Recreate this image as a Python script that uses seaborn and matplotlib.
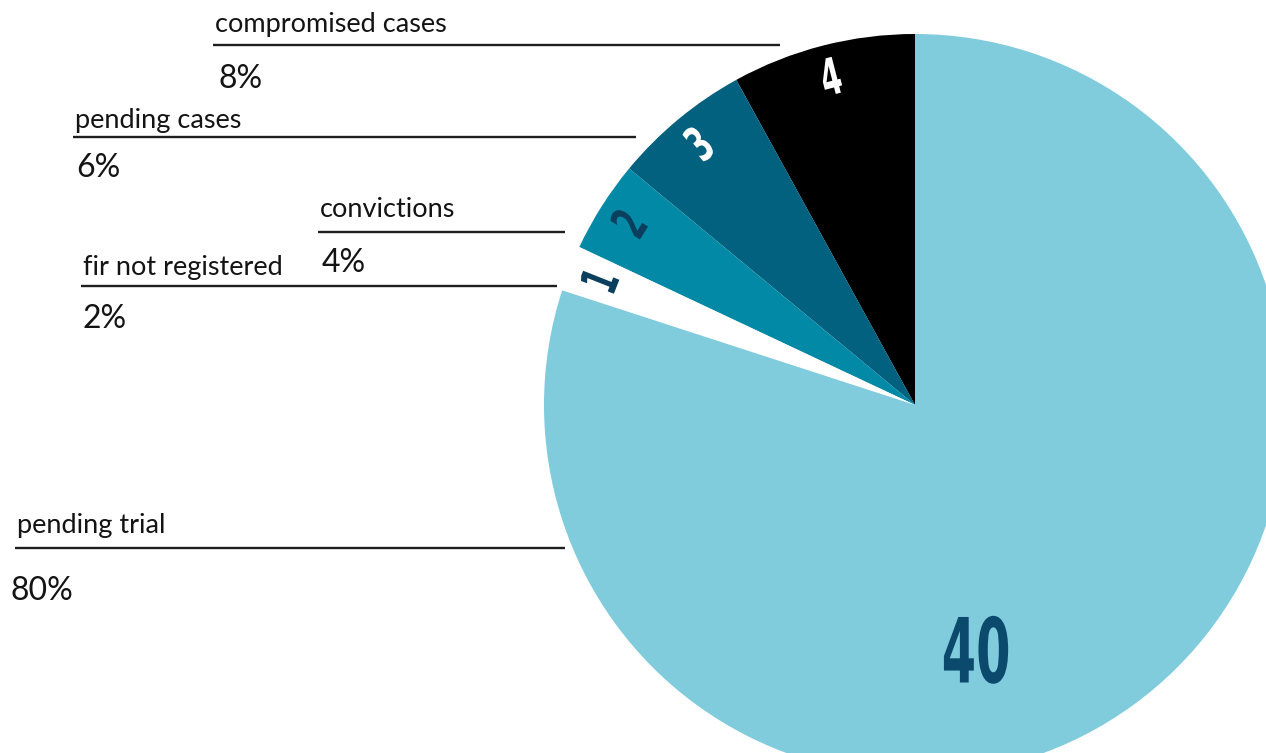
import matplotlib
matplotlib.use("Agg")
import matplotlib.pyplot as plt
import numpy as np
import seaborn as sns
from matplotlib.font_manager import FontProperties
from matplotlib.patches import PathPatch
from matplotlib.textpath import TextPath
from matplotlib.transforms import Affine2D

# slice values, ordered from the top going anticlockwise
slice_values = [4, 3, 2, 1, 40]
slice_colors = ["#000000", "#02617e", "#0289a6", "#ffffff", "#80cbdc"]
number_colors = ["#ffffff", "#ffffff", "#0a3f5e", "#0a3f5e", "#0b4a6c"]

label_names = ["compromised cases", "pending cases", "convictions",
               "fir not registered", "pending trial"]
label_pcts = ["8%", "6%", "4%", "2%", "80%"]

sns.set_theme(style="white")
plt.rcParams["font.family"] = ["Lato", "DejaVu Sans"]

fig = plt.figure(figsize=(12.66, 7.53), dpi=100)
ax = fig.add_axes([0, 0, 1, 1])

cx, cy, r = 915, 405, 371
# y axis is inverted (pixel style), so clockwise in data = anticlockwise on screen
wedges, _ = ax.pie(slice_values, colors=slice_colors, startangle=-90,
                   counterclock=False, center=(cx, cy), radius=r,
                   wedgeprops=dict(linewidth=0))
ax.set_xlim(0, 1266)
ax.set_ylim(753, 0)
ax.set_aspect("equal")
ax.axis("off")

num_fp = FontProperties(family="DejaVu Sans", weight="bold")


def condensed_number(s, x, y, height, rot, color, squeeze=0.58):
    # draw a narrow bold number as a path (no condensed font installed)
    tp = TextPath((0, 0), s, size=100, prop=num_fp)
    ext = tp.get_extents()
    k = height / ext.height
    tr = (Affine2D()
          .translate(-(ext.x0 + ext.width / 2), -(ext.y0 + ext.height / 2))
          .scale(k * squeeze, k)
          .rotate_deg(rot)
          .scale(1, -1)
          .translate(x, y))
    ax.add_patch(PathPatch(tr.transform_path(tp), facecolor=color,
                           edgecolor="none"))


for w, v, c in zip(wedges[:4], slice_values[:4], number_colors[:4]):
    mid = (w.theta1 + w.theta2) / 2
    rr = 0.915 * r
    x = cx + rr * np.cos(np.deg2rad(mid))
    y = cy + rr * np.sin(np.deg2rad(mid))
    condensed_number(str(v), x, y, 37, -mid - 90, c)

# big number in the large slice
ang = np.deg2rad(76)
condensed_number(str(slice_values[4]), cx + 0.68 * r * np.cos(ang),
                 cy + 0.68 * r * np.sin(ang), 68, 0, number_colors[4],
                 squeeze=0.55)

# callout labels: (text x, name baseline, line y, line end x, pct x, pct baseline)
layout = [
    (215, 32, 45, 780, 218, 88),
    (75, 128, 137, 636, 76, 177),
    (320, 217, 232, 565, 322, 272),
    (83, 275, 286, 557, 82, 328),
    (17, 533, 548, 565, 11, 600),
]
for name, pct, (tx, ty, ly, lx, px, py) in zip(label_names, label_pcts, layout):
    ax.text(tx, ty, name, fontsize=19.5, color="#141414", ha="left",
            va="baseline")
    ax.plot([tx - 2, lx], [ly, ly], color="#1e1e1e", lw=1.7,
            solid_capstyle="butt")
    ax.text(px, py, pct, fontsize=23, color="#141414", ha="left",
            va="baseline")

fig.savefig("out.png", dpi=100)
